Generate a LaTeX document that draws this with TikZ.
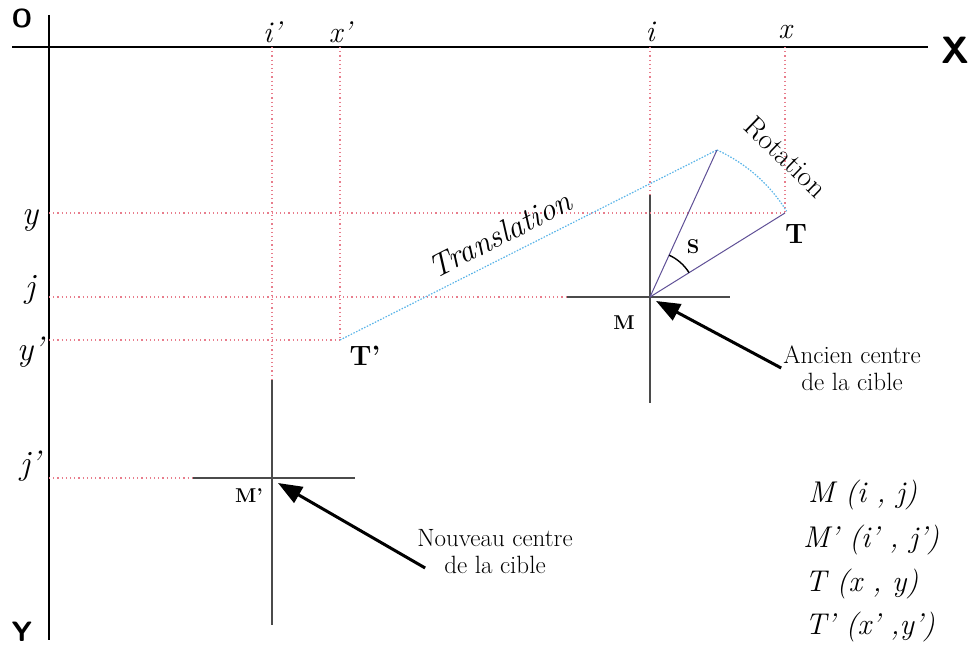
\documentclass[tikz,border=0pt]{standalone}
\usepackage{fontspec}
\usepackage{xcolor}
\usepackage{tikz}
\usetikzlibrary{arrows.meta,calc}

\definecolor{guidered}{RGB}{232,125,140}
\definecolor{pathblue}{RGB}{90,180,232}
\definecolor{radpurple}{RGB}{95,80,150}
\definecolor{crossgray}{RGB}{75,75,75}

\begin{document}
\begin{tikzpicture}[x=1pt, y=1pt,
    axis/.style={line width=2.6pt},
    guide/.style={guidered, line width=1.2pt, dash pattern=on 1.2pt off 3pt},
    cross/.style={crossgray, line width=1.3pt},
    radline/.style={radpurple, line width=1pt},
    move/.style={pathblue, line width=1.2pt, dash pattern=on 1.5pt off 1.5pt},
    pointer/.style={line width=3pt, -{Triangle[length=24pt,width=18pt]}},
    axisname/.style={font=\sffamily\bfseries\fontsize{26}{26}\selectfont},
    coordlabel/.style={font=\itshape\fontsize{30}{30}\selectfont},
    sidelabel/.style={font=\itshape\fontsize{34}{34}\selectfont},
    ptlabel/.style={font=\bfseries\fontsize{28}{28}\selectfont},
    ctrlabel/.style={font=\bfseries\fontsize{20}{20}\selectfont},
    note/.style={align=center, inner sep=2pt, font=\fontsize{25}{27}\selectfont},
    legend/.style={anchor=base west, inner sep=0pt, font=\itshape\fontsize{30}{30}\selectfont}]
  \useasboundingbox (0,0) rectangle (970,648);

  % Axes
  \coordinate (O) at (49,601);
  \coordinate (Xend) at (928,601);
  \coordinate (Yend) at (49,8);
  \draw[axis] (12,601) -- (Xend);
  \draw[axis] (49,633) -- (Yend);
  \node[axisname] (labO) at (22,630) {O};
  \node[axisname, font=\sffamily\bfseries\fontsize{38}{38}\selectfont] (labX) at (955,598) {X};
  \node[axisname, font=\sffamily\bfseries\fontsize{28}{28}\selectfont] (labY) at (22,16) {Y};

  % Points
  \coordinate (M) at (650,351);
  \coordinate (Mp) at (272,170);
  \coordinate (T) at (785,435);
  \coordinate (R) at (717,498);
  \coordinate (Tp) at (340,308);

  % Target crosses
  \coordinate (Mn) at ($(M)+(0,102)$);
  \coordinate (Ms) at ($(M)+(0,-106)$);
  \coordinate (Mw) at ($(M)+(-83,0)$);
  \coordinate (Me) at ($(M)+(80,0)$);
  \draw[cross] (Mn) -- (Ms);
  \draw[cross] (Mw) -- (Me);
  \coordinate (Mpn) at ($(Mp)+(0,98)$);
  \coordinate (Mps) at ($(Mp)+(0,-147)$);
  \coordinate (Mpw) at ($(Mp)+(-79,0)$);
  \coordinate (Mpe) at ($(Mp)+(83,0)$);
  \draw[cross] (Mpn) -- (Mps);
  \draw[cross] (Mpw) -- (Mpe);

  % Axis labels
  \foreach \name/\xpos/\txt in {ip/272/i', xp/340/x', i/650/i, x/785/x} {
    \coordinate (ax\name) at (\xpos,601);
    \node[coordlabel] (lab\name) at (\xpos,616) {\txt};
  }
  \foreach \name/\ypos/\txt in {y/428/y, j/358/j, yp/296/y', jp/182/j'} {
    \node[sidelabel] (lab\name) at (30,\ypos) {\txt};
  }
  \coordinate (ayy) at (49,435);
  \coordinate (ayj) at (49,351);
  \coordinate (ayyp) at (49,308);
  \coordinate (ayjp) at (49,170);

  % Guide lines
  \draw[guide] (axip) -- (Mpn);
  \draw[guide] (axxp) -- (Tp);
  \draw[guide] (axi) -- (Mn);
  \draw[guide] (axx) -- (T);
  \draw[guide] (ayy) -- (T);
  \draw[guide] (ayj) -- (Mw);
  \draw[guide] (ayyp) -- (Tp);
  \draw[guide] (ayjp) -- (Mpw);

  % Translation and rotation
  \draw[move] (Tp) -- (R);
  \draw[move] (R) arc[start angle=65.5, end angle=31.8, radius=160pt];
  \draw[radline] (M) -- (R);
  \draw[radline] (M) -- (T);
  \draw[line width=1.4pt] ($(M)+(31.8:46pt)$) arc[start angle=31.8, end angle=65.5, radius=46pt];
  \node[font=\bfseries\fontsize{20}{20}\selectfont] (labS) at (693,401) {S};
  \node[font=\itshape\fontsize{32}{32}\selectfont, rotate=27] (labtrans) at (500,414) {Translation};
  \node[font=\fontsize{29}{29}\selectfont, rotate=-44] (labrot) at (786,491) {Rotation};

  % Point names
  \node[ptlabel] (labT) at (796,414) {T};
  \node[ptlabel] (labTp) at (365,292) {T'};
  \node[ctrlabel] (labM) at (624,325) {M};
  \node[ctrlabel] (labMp) at (249,152) {M'};

  % Pointers
  \node[note] (ancien) at (852,280) {Ancien centre\\de la cible};
  \node[note] (nouveau) at (495,96) {Nouveau centre\\de la cible};
  \coordinate (Mtip) at ($(M)+(6,-4)$);
  \coordinate (Mptip) at ($(Mp)+(6,-5)$);
  \draw[pointer] (ancien.west) -- (Mtip);
  \draw[pointer] ($(nouveau.west)+(10,-16)$) -- (Mptip);

  % Legend
  \node[legend] (legM) at (808,145) {M (i , j)};
  \node[legend] (legMp) at (803,100) {M' (i' , j')};
  \node[legend] (legT) at (805,56) {T (x , y)};
  \node[legend] (legTp) at (805,13) {T' (x' ,y')};
\end{tikzpicture}
\end{document}
